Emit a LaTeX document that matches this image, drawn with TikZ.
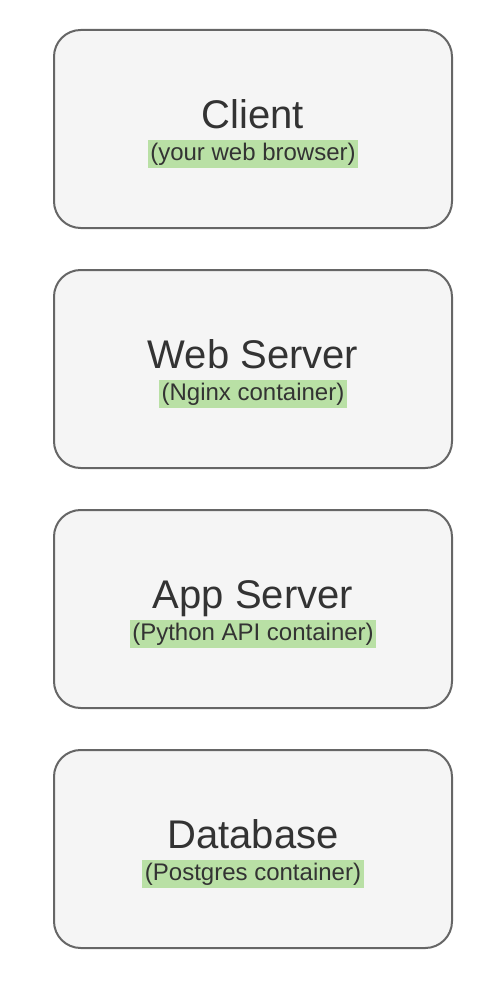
\documentclass[tikz,border=0pt]{standalone}
\usepackage{fontspec}
\setmainfont{Liberation Sans}
\usetikzlibrary{positioning}
\definecolor{boxfill}{HTML}{F5F5F5}
\definecolor{boxline}{HTML}{666666}
\definecolor{boxtext}{HTML}{333333}
\definecolor{notefill}{HTML}{B9E0A5}
\setlength{\fboxsep}{2pt}
\newcommand{\tiernote}[1]{%
  \colorbox{notefill}{\fontsize{18}{24}\selectfont #1}%
}
\newcommand{\tiername}[1]{%
  \rule{0pt}{28.5pt}#1%
}

\begin{document}
\begin{tikzpicture}[x=0.75pt,y=-0.75pt,
                    tier/.style={draw=boxline,line width=1.5pt,fill=boxfill,
                      rounded corners=20pt,minimum width=298.5pt,
                      minimum height=148.5pt,align=center,text=boxtext,
                      font=\fontsize{30}{24}\selectfont}]
  \useasboundingbox (0,0) rectangle (500,988);

  \node[tier] (client) at (253,129) {\tiername{Client}\\\tiernote{(your web browser)}};
  \node[tier,below=30pt of client] (websrv) {\tiername{Web Server}\\\tiernote{(Nginx container)}};
  \node[tier,below=30pt of websrv] (appsrv) {\tiername{App Server}\\\tiernote{(Python API container)}};
  \node[tier,below=30pt of appsrv] (db) {\tiername{Database}\\\tiernote{(Postgres container)}};

\end{tikzpicture}
\end{document}
